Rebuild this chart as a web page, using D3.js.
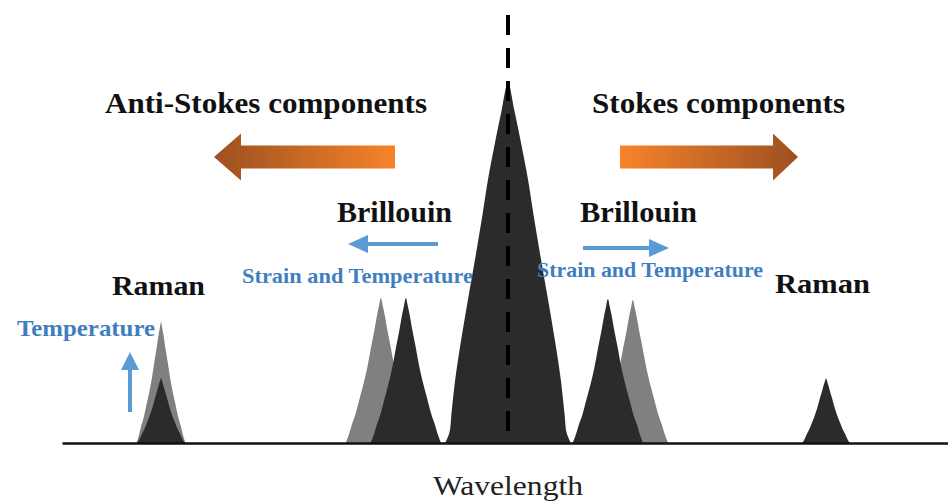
<!DOCTYPE html>
<html>
<head>
<meta charset="utf-8">
<script src="https://cdn.jsdelivr.net/npm/d3@7"></script>
<style>
  html, body { margin: 0; padding: 0; background: #fff; }
  svg { display: block; }
  text { font-family: "Liberation Serif", "Times New Roman", serif; }
</style>
</head>
<body>
<svg id="chart" width="948" height="503"></svg>
<script>
// ---------- data ----------
// spectral lines: relative wavelength shift (arb. units) from the pump line
const peakNames   = ["Raman AS (heated)", "Raman AS", "Brillouin AS (shifted)", "Brillouin AS", "Rayleigh", "Brillouin S", "Brillouin S (shifted)", "Raman S"];
const peakCenters = [-77.8, -77.8, -28.5, -22.9, 0, 22.4, 28.0, 71.3];
const peakHeights = [0.336, 0.18, 0.403, 0.403, 1.0, 0.400, 0.397, 0.180];
const peakWidths  = [5.5, 5.3, 7.9, 7.9, 14.1, 7.9, 7.9, 5.3];
const peakStates  = ["shifted", "reference", "shifted", "reference", "reference", "reference", "shifted", "reference"];
const peakKinds   = ["side", "side", "side", "side", "rayleigh", "side", "side", "side"];
// normalised line profiles: [offset / half-width, intensity / peak]
const rayleighShape = [[1.0, 0], [0.93, 0.03], [0.9, 0.08], [0.84, 0.175], [0.76, 0.27], [0.635, 0.40], [0.49, 0.545], [0.40, 0.64], [0.32, 0.73], [0.2, 0.84], [0.1, 0.925], [0, 1]];
const sideShape = [[1.0, 0], [0.92, 0.05], [0.82, 0.13], [0.72, 0.2], [0.6, 0.31], [0.47, 0.43], [0.37, 0.54], [0.28, 0.66], [0.19, 0.77], [0.11, 0.88], [0.05, 0.95], [0, 1]];
// labels
const headerLabels = ["Anti-Stokes components", "Stokes components"];
const brillouinLabels = ["Brillouin", "Brillouin"];
const sensLabels = ["Strain and Temperature", "Strain and Temperature"];
const ramanLabels = ["Raman", "Raman"];
const tempLabel = "Temperature";
const axisLabel = "Wavelength";

// ---------- scales ----------
const svg = d3.select("#chart");
const x = d3.scaleLinear().domain([-100, 100]).range([62, 954]);
const y = d3.scaleLinear().domain([0, 1]).range([443, 83]);

const defs = svg.append("defs");
const gL = defs.append("linearGradient").attr("id", "gradL").attr("x1", "0%").attr("x2", "100%");
gL.append("stop").attr("offset", "0%").attr("stop-color", "#9c5020");
gL.append("stop").attr("offset", "100%").attr("stop-color", "#f7832a");
const gR = defs.append("linearGradient").attr("id", "gradR").attr("x1", "0%").attr("x2", "100%");
gR.append("stop").attr("offset", "0%").attr("stop-color", "#f7832a");
gR.append("stop").attr("offset", "100%").attr("stop-color", "#9c5020");

// ---------- peaks ----------
const line = d3.line().x(d => x(d[0])).y(d => y(d[1])).curve(d3.curveCatmullRom.alpha(0.5));
function peakPoints(i) {
  const shape = peakKinds[i] === "rayleigh" ? rayleighShape : sideShape;
  const c = peakCenters[i], w = peakWidths[i], h = peakHeights[i];
  const left = shape.map(p => [c - p[0] * w, p[1] * h]);
  const right = shape.slice(0, -1).reverse().map(p => [c + p[0] * w, p[1] * h]);
  return left.concat(right);
}
const color = { shifted: "#808080", reference: "#2b2b2b" };
const order = peakNames.map((n, i) => i)
  .sort((a, b) => (peakStates[a] === "shifted" ? 0 : 1) - (peakStates[b] === "shifted" ? 0 : 1));
svg.append("g").selectAll("path")
  .data(order)
  .join("path")
  .attr("d", i => line(peakPoints(i)) + "Z")
  .attr("fill", i => color[peakStates[i]])
  .attr("stroke", "none");

// baseline
svg.append("g")
  .attr("transform", `translate(0,${y(0)})`)
  .call(d3.axisBottom(x).ticks(0).tickSize(0).tickSizeOuter(0))
  .call(g => g.select(".domain").attr("stroke", "#111").attr("stroke-width", 2.6))
  .call(g => g.selectAll("text").remove());

// dashed centre line
svg.append("line")
  .attr("x1", x(0)).attr("x2", x(0))
  .attr("y1", 15).attr("y2", y(0))
  .attr("stroke", "#000").attr("stroke-width", 4)
  .attr("stroke-dasharray", "20,13");

// ---------- orange arrows ----------
function bigArrow(tipX, tailX, cy, headBase, bodyHalf, headHalf, fill) {
  const p = d3.path();
  p.moveTo(tipX, cy);
  p.lineTo(headBase, cy - headHalf);
  p.lineTo(headBase, cy - bodyHalf);
  p.lineTo(tailX, cy - bodyHalf);
  p.lineTo(tailX, cy + bodyHalf);
  p.lineTo(headBase, cy + bodyHalf);
  p.lineTo(headBase, cy + headHalf);
  p.closePath();
  svg.append("path").attr("d", p.toString()).attr("fill", fill);
}
bigArrow(214, 395, 157, 241, 11.5, 23.5, "url(#gradL)");
bigArrow(798, 620, 157, 773, 11.5, 23.5, "url(#gradR)");

// ---------- blue arrows ----------
const blue = "#5b9bd5";
function blueArrowH(tail, tip, cy) {
  const dir = Math.sign(tip - tail);
  const hb = tip - dir * 20;
  svg.append("line").attr("x1", tail).attr("x2", hb).attr("y1", cy).attr("y2", cy)
    .attr("stroke", blue).attr("stroke-width", 4);
  svg.append("path").attr("d", `M${tip},${cy}L${hb},${cy - 9}L${hb},${cy + 9}Z`).attr("fill", blue);
}
blueArrowH(438, 348, 244);
blueArrowH(583, 669, 248);
// vertical temperature arrow
svg.append("line").attr("x1", 130).attr("x2", 130).attr("y1", 412).attr("y2", 368)
  .attr("stroke", blue).attr("stroke-width", 4);
svg.append("path").attr("d", "M130,352L121,370L139,370Z").attr("fill", blue);

// ---------- text ----------
function label(txt, xx, yy, size, weight, fill, len, anchor) {
  const t = svg.append("text").attr("x", xx).attr("y", yy)
    .attr("font-size", size).attr("font-weight", weight).attr("fill", fill)
    .attr("text-anchor", anchor || "start").text(txt);
  if (len) t.attr("textLength", len).attr("lengthAdjust", "spacingAndGlyphs");
  return t;
}
const textBlue = "#3f7fc0";
label(headerLabels[0], 105, 113, 29, "bold", "#111", 322);
label(headerLabels[1], 592, 113, 29, "bold", "#111", 253);
label(brillouinLabels[0], 337, 222, 29, "bold", "#111", 115);
label(brillouinLabels[1], 580, 222, 29, "bold", "#111", 117);
label(sensLabels[0], 242, 283, 22, "bold", textBlue, 231);
label(sensLabels[1], 537, 277, 22, "bold", textBlue, 226);
label(ramanLabels[0], 112, 295, 28, "bold", "#111", 93);
label(ramanLabels[1], 775, 293, 28, "bold", "#111", 95);
label(tempLabel, 17, 336, 24, "bold", textBlue, 138);
label(axisLabel, 508, 495, 28, "normal", "#222", 150, "middle");
</script>
</body>
</html>
